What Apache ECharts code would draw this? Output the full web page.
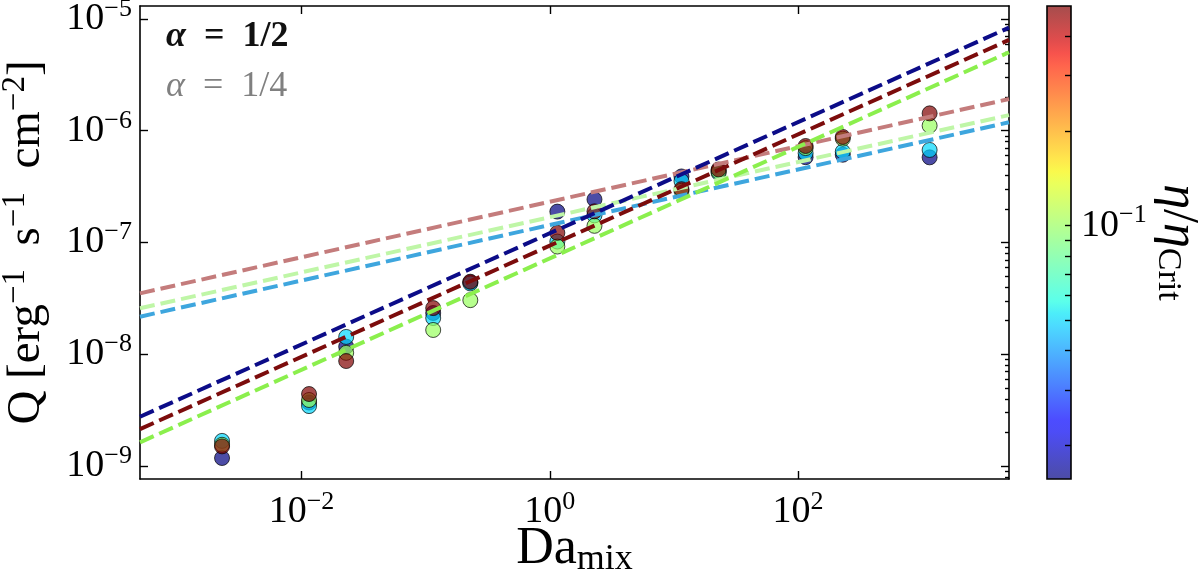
<!DOCTYPE html>
<html lang="en">
<head>
<meta charset="UTF-8">
<title>Q vs Da_mix</title>
<script src="https://cdn.jsdelivr.net/npm/echarts@6/dist/echarts.min.js"></script>
<style>html,body{margin:0;padding:0;background:#fff}</style>
</head>
<body>
<div id="main" style="width:1200px;height:572px"></div>
<script>
// Da_mix of every column of runs
var daMix = [0.00229, 0.0115, 0.0229, 0.115, 0.229, 1.15, 2.29, 11.5, 22.9, 115, 229, 1147];
// eta/eta_crit of the four run sets
var etaRatio = [1 / 64, 0.05, 0.1, 0.5];
// Q [erg^-1 s^-1 cm^-2] for each set, same order as etaRatio
var qEtaA = [1.18e-9, 3.7e-9, 1.17e-8, 2.34e-8, 4.4e-8, 1.89e-7, 2.43e-7, 3.9e-7, 4.4e-7, 5.8e-7, 6.1e-7, 5.78e-7];
var qEtaB = [1.68e-9, 3.44e-9, 1.43e-8, 2.11e-8, 4.3e-8, 1.02e-7, 1.75e-7, 3.55e-7, 4.2e-7, 6.3e-7, 6.5e-7, 6.73e-7];
var qEtaC = [1.55e-9, 3.9e-9, 1.03e-8, 1.65e-8, 3.05e-8, 9.2e-8, 1.41e-7, 2.9e-7, 4.3e-7, 7.0e-7, 8.5e-7, 1.11e-6];
var qEtaD = [1.5e-9, 4.41e-9, 8.7e-9, 2.59e-8, 4.46e-8, 1.22e-7, 1.9e-7, 3.0e-7, 4.5e-7, 7.3e-7, 8.8e-7, 1.43e-6];

// fit lines: Q at the two ends of the x range
var fitX = [5e-4, 5e3];
var fitHalfBlue = [2.76e-9, 8.36e-6];
var fitHalfRed = [2.14e-9, 6.49e-6];
var fitHalfGreen = [1.63e-9, 5.04e-6];
var fitQuarterRed = [3.51e-8, 1.92e-6];
var fitQuarterGreen = [2.58e-8, 1.38e-6];
var fitQuarterBlue = [2.17e-8, 1.19e-6];

// axes
var xLim = [5e-4, 5e3];
var yLim = [7.66e-10, 1.306e-5];
var cbLim = [1 / 64, 0.5];
var xTicks = [1e-2, 1, 1e2];
var yTicks = [1e-9, 1e-8, 1e-7, 1e-6, 1e-5];
var cbTicks = [0.1];

var SERIF = 'Liberation Serif';
var lg = Math.log10;

function minorTicks(lim) {
    var out = [];
    for (var n = Math.floor(lg(lim[0])); n <= Math.ceil(lg(lim[1])); n++) {
        for (var k = 2; k <= 9; k++) {
            var v = lg(k) + n;
            if (v >= lg(lim[0]) && v <= lg(lim[1])) out.push(v);
        }
    }
    return out;
}

// matplotlib jet
function seg(p, t) {
    for (var i = 1; i < p.length; i++) {
        if (t <= p[i][0]) return p[i - 1][1] + (p[i][1] - p[i - 1][1]) * (t - p[i - 1][0]) / (p[i][0] - p[i - 1][0]);
    }
    return p[p.length - 1][1];
}
function jet(t) {
    var r = seg([[0, 0], [0.35, 0], [0.66, 1], [0.89, 1], [1, 0.5]], t);
    var g = seg([[0, 0], [0.125, 0], [0.375, 1], [0.64, 1], [0.91, 0], [1, 0]], t);
    var b = seg([[0, 0.5], [0.11, 1], [0.34, 1], [0.65, 0], [1, 0]], t);
    return 'rgb(' + Math.round(r * 255) + ',' + Math.round(g * 255) + ',' + Math.round(b * 255) + ')';
}
var jetColors = [], jetStops = [];
for (var i = 0; i <= 40; i++) {
    jetColors.push(jet(i / 40));
    jetStops.push({offset: 1 - i / 40, color: jet(i / 40)});
}

var pow10Rich = {
    b: {fontFamily: SERIF, fontSize: 38, lineHeight: 38, color: '#000'},
    s: {fontFamily: SERIF, fontSize: 26, lineHeight: 26, padding: [0, 0, 20, 0], color: '#000'}
};
function pow10Label(v) {
    var e = Math.round(v);
    return '{b|10}{s|' + (e < 0 ? '\u2212' + (-e) : e) + '}';
}

var axisLine = {show: true, onZero: false, lineStyle: {color: '#000', width: 1.6}};
var noLine = {show: false, onZero: false};

function ticks(len, vals) {
    return {show: true, inside: true, length: len, lineStyle: {color: '#000', width: len > 5 ? 1.4 : 1.2}, customValues: vals};
}

function logPts(xs, ys, eta) {
    return xs.map(function (x, i) {
        var p = [lg(x), lg(ys[i])];
        if (eta !== undefined) p.push(lg(eta));
        return p;
    });
}

var qSets = [qEtaA, qEtaB, qEtaC, qEtaD];
var series = qSets.map(function (q, i) {
    return {
        type: 'scatter',
        data: logPts(daMix, q, etaRatio[i]),
        symbolSize: 15,
        itemStyle: {opacity: 0.7, borderColor: '#000', borderWidth: 1},
        z: 2
    };
});

var fits = [
    [fitQuarterRed, '#c47c7c'],
    [fitQuarterGreen, '#bff6a7'],
    [fitQuarterBlue, '#3ea6de'],
    [fitHalfBlue, '#0c0c88'],
    [fitHalfRed, '#7c0c0c'],
    [fitHalfGreen, '#8bef4d']
];
fits.forEach(function (f) {
    series.push({
        type: 'line',
        data: logPts(fitX, f[0]),
        showSymbol: false,
        lineStyle: {color: f[1], width: 4, type: [15, 6]},
        z: 3
    });
});

// colour bar drawn as a gradient over its own grid
series.push({
    type: 'custom',
    xAxisIndex: 2,
    yAxisIndex: 4,
    data: [[0, 0]],
    z: 1,
    renderItem: function (params, api) {
        var p0 = api.coord([0, lg(cbLim[1])]);
        var p1 = api.coord([1, lg(cbLim[0])]);
        var shape = {x: p0[0], y: p0[1], width: p1[0] - p0[0], height: p1[1] - p0[1]};
        return {
            type: 'group',
            children: [
                {type: 'rect', shape: shape, style: {fill: new echarts.graphic.LinearGradient(0, 0, 0, 1, jetStops), opacity: 0.7}},
                {type: 'rect', shape: shape, style: {fill: 'none', stroke: '#000', lineWidth: 1.6}}
            ]
        };
    }
});

var xMaj = xTicks.map(lg), yMaj = yTicks.map(lg), yMin = minorTicks(yLim);
var cbMin = minorTicks(cbLim).concat(cbTicks.map(lg));

var option = {
    animation: false,
    backgroundColor: '#fff',
    grid: [
        {left: 140, right: 191, top: 6, bottom: 93, outerBoundsMode: 'none'},
        {left: 1047, top: 6, width: 24, height: 473, outerBoundsMode: 'none'}
    ],
    xAxis: [
        {
            type: 'value', gridIndex: 0, min: lg(xLim[0]), max: lg(xLim[1]),
            axisLine: axisLine, splitLine: {show: false},
            axisTick: ticks(8, xMaj),
            axisLabel: {customValues: xMaj, formatter: pow10Label, margin: 14, rich: pow10Rich},
            name: '{b|Da}{u|mix}', nameLocation: 'middle', nameGap: 44, nameMoveOverlap: false,
            nameTextStyle: {
                rich: {
                    b: {fontFamily: SERIF, fontSize: 52, lineHeight: 52, color: '#000'},
                    u: {fontFamily: SERIF, fontSize: 36, lineHeight: 36, padding: [22, 0, 0, 0], color: '#000'}
                }
            }
        },
        {
            type: 'value', gridIndex: 0, position: 'top', min: lg(xLim[0]), max: lg(xLim[1]),
            axisLine: axisLine, splitLine: {show: false}, axisLabel: {show: false},
            axisTick: ticks(8, xMaj)
        },
        {type: 'value', gridIndex: 1, min: 0, max: 1, show: false}
    ],
    yAxis: [
        {
            type: 'value', gridIndex: 0, min: lg(yLim[0]), max: lg(yLim[1]),
            axisLine: axisLine, splitLine: {show: false},
            axisTick: ticks(8, yMaj),
            axisLabel: {customValues: yMaj, formatter: pow10Label, margin: 8, rich: pow10Rich},
            name: '{b|Q [erg}{s|\u22121}{b|  s}{s|\u22121}{b|  cm}{s|\u22122}{b|]}',
            nameLocation: 'middle', nameRotate: 90, nameGap: 86,
            nameTextStyle: {
                rich: {
                    b: {fontFamily: SERIF, fontSize: 47, lineHeight: 47, color: '#000'},
                    s: {fontFamily: SERIF, fontSize: 33, lineHeight: 33, padding: [0, 0, 24, 0], color: '#000'}
                }
            }
        },
        {
            type: 'value', gridIndex: 0, min: lg(yLim[0]), max: lg(yLim[1]),
            axisLine: noLine, splitLine: {show: false}, axisLabel: {show: false},
            axisTick: ticks(4, yMin)
        },
        {
            type: 'value', gridIndex: 0, position: 'right', min: lg(yLim[0]), max: lg(yLim[1]),
            axisLine: axisLine, splitLine: {show: false}, axisLabel: {show: false},
            axisTick: ticks(8, yMaj)
        },
        {
            type: 'value', gridIndex: 0, position: 'right', min: lg(yLim[0]), max: lg(yLim[1]),
            axisLine: noLine, splitLine: {show: false}, axisLabel: {show: false},
            axisTick: ticks(4, yMin)
        },
        {
            type: 'value', gridIndex: 1, position: 'right', min: lg(cbLim[0]), max: lg(cbLim[1]), z: 5,
            axisLine: noLine, splitLine: {show: false},
            axisTick: ticks(6, cbMin),
            axisLabel: {customValues: cbTicks.map(lg), formatter: pow10Label, margin: 10, rich: pow10Rich},
            name: '{e|\u03b7}{n|/}{e|\u03b7}{u|Crit}', nameLocation: 'middle', nameRotate: -90, nameGap: 64,
            nameTextStyle: {
                rich: {
                    e: {fontFamily: SERIF, fontStyle: 'italic', fontSize: 50, lineHeight: 50, color: '#000'},
                    n: {fontFamily: SERIF, fontSize: 50, lineHeight: 50, color: '#000'},
                    u: {fontFamily: SERIF, fontSize: 34, lineHeight: 34, padding: [22, 0, 0, 0], color: '#000'}
                }
            }
        }
    ],
    visualMap: {
        type: 'continuous', show: false, dimension: 2,
        min: lg(cbLim[0]), max: lg(cbLim[1]),
        seriesIndex: [0, 1, 2, 3],
        inRange: {color: jetColors}
    },
    graphic: [
        {
            type: 'text', left: 166, top: 19,
            style: {
                text: '{a|\u03b1}{b|  =  1/2}',
                rich: {
                    a: {fontFamily: SERIF, fontStyle: 'italic', fontWeight: 'bold', fontSize: 36, fill: '#111'},
                    b: {fontFamily: SERIF, fontWeight: 'bold', fontSize: 36, fill: '#111'}
                }
            }
        },
        {
            type: 'text', left: 166, top: 69,
            style: {
                text: '{a|\u03b1}{b|  =  1/4}',
                rich: {
                    a: {fontFamily: SERIF, fontStyle: 'italic', fontSize: 36, fill: '#808080'},
                    b: {fontFamily: SERIF, fontSize: 36, fill: '#808080'}
                }
            }
        }
    ],
    series: series
};

var chart = echarts.init(document.getElementById('main'));
chart.setOption(option);
</script>
</body>
</html>
